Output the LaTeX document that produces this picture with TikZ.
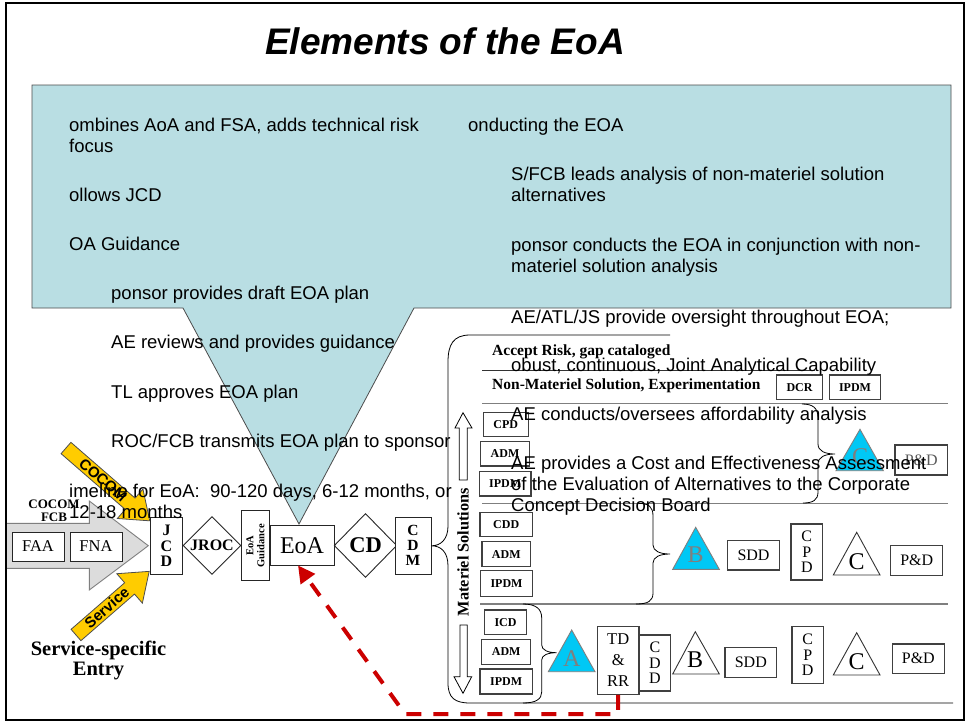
\documentclass[tikz,border=0pt]{standalone}
\usepackage{fontspec}
\setmainfont{Liberation Serif}
\setsansfont{Liberation Sans}
\usetikzlibrary{calc,arrows.meta,shapes.geometric}

\definecolor{calloutfill}{HTML}{B9DEE3}
\definecolor{gold}{HTML}{FFCC00}
\definecolor{cyantri}{HTML}{00C8F5}
\definecolor{arrowgray}{HTML}{DCDCDC}
\definecolor{dashred}{HTML}{CC0000}
\definecolor{rulegray}{HTML}{7F7F7F}

\tikzset{
  % multi-line balloon paragraphs are anchored at the baseline of their last line
  co/.style={font=\fontsize{18.5}{21}\selectfont\sffamily, anchor=base west, inner sep=0pt, align=left},
  flowbox/.style={draw=black!85, line width=0.9pt, fill=white, inner sep=0pt},
  lab/.style={draw=black!75, line width=1.2pt, fill=white, inner sep=0pt, font=\fontsize{12}{12}\selectfont\bfseries},
  rbox/.style={draw=black!75, line width=1.2pt, fill=white, inner sep=0pt, font=\fontsize{16}{15.5}\selectfont, align=center},
  tri/.style={draw=black!80, line width=0.9pt, fill=white},
  ctri/.style={draw=rulegray, line width=0.9pt, fill=cyantri},
  tletter/.style={inner sep=0pt, font=\fontsize{24}{24}\selectfont},
  sep/.style={draw=rulegray, line width=1.4pt},
  yarrow/.style={fill=gold, draw=black!70, line width=0.8pt},
  hollow/.style={fill=white, draw=black, line width=0.8pt},
  rowtxt/.style={anchor=base west, inner sep=0pt, font=\fontsize{15.5}{15.5}\selectfont\bfseries},
}

\begin{document}
\begin{tikzpicture}[x=1pt,y=-1pt]
\useasboundingbox (0,0) rectangle (969,723);
\fill[white] (0,0) rectangle (969,723);

% slide frame
\draw[line width=2.5pt] (6,3) rectangle (964,720);

% title
\node[inner sep=0pt, font=\fontsize{37}{37}\selectfont\sffamily\bfseries\itshape] (title) at (445,41) {Elements of the EoA};

% callout balloon pointing at the EoA box
\filldraw[fill=calloutfill, draw=black!70, line width=0.8pt]
  (32,85) -- (951,85) -- (951,308) -- (414,308) -- (299,524) -- (183,308) -- (32,308) -- cycle;

% ---------------- entry flow ----------------
\filldraw[fill=arrowgray, draw=rulegray, line width=0.9pt]
  (7,523.3) -- (89.3,523.3) -- (89.3,501) -- (148.3,545.7) -- (89.3,590) -- (89.3,568.3) -- (7,568.3);
\node[flowbox, minimum width=52, minimum height=29, font=\fontsize{16.5}{16.5}\selectfont] (faa) at (38,546.5) {FAA};
\node[flowbox, minimum width=52, minimum height=29, font=\fontsize{16.5}{16.5}\selectfont] (fna) at (96,546.5) {FNA};
\node[inner sep=0pt, align=center, font=\fontsize{13}{13}\selectfont\bfseries] (cocomfcb) at (54,510.5) {COCOM\\FCB};

% yellow entry arrows
\begin{scope}[shift={(66,448)}, rotate=-41]
  \filldraw[yarrow] (0,-7.5) -- (85,-7.5) -- (85,-19.5) -- (111,0) -- (85,19.5) -- (85,7.5) -- (0,7.5) -- cycle;
\end{scope}
\node[inner sep=0pt, rotate=-41, font=\fontsize{15}{15}\selectfont\sffamily\bfseries] (cocomtxt) at (103,480) {COCOM};
\begin{scope}[shift={(76,635)}, rotate=41]
  \filldraw[yarrow] (0,-7.5) -- (71,-7.5) -- (71,-19.5) -- (97,0) -- (71,19.5) -- (71,7.5) -- (0,7.5) -- cycle;
\end{scope}
\node[inner sep=0pt, rotate=41, font=\fontsize{15}{15}\selectfont\sffamily\bfseries] (servtxt) at (106.7,607.5) {Service};

\node[inner sep=0pt, align=center, font=\fontsize{20.5}{20}\selectfont\bfseries] (entry) at (98.5,660) {Service-specific\\Entry};

\node[flowbox, minimum width=31.6, minimum height=56.6, align=center, font=\fontsize{16}{15.5}\selectfont\bfseries] (jcd) at (166.5,546) {J\\C\\D};
\node[flowbox, diamond, minimum width=58, minimum height=58, font=\fontsize{16}{16}\selectfont\bfseries] (jroc) at (212,545.5) {JROC};
\node[flowbox, rotate=90, minimum width=70, minimum height=27.6, align=center, font=\fontsize{10.5}{11}\selectfont\bfseries] (guid) at (255.5,545.7) {EoA\\Guidance};
\node[flowbox, minimum width=64, minimum height=39.3, font=\fontsize{24}{24}\selectfont] (eoa) at (302,545.3) {EoA};
\node[flowbox, diamond, minimum width=62.6, minimum height=64, font=\fontsize{22.5}{22.5}\selectfont\bfseries] (cd) at (365.5,545.5) {CD};
\node[flowbox, minimum width=36, minimum height=56.3, align=center, font=\fontsize{15.5}{15}\selectfont\bfseries] (cdm) at (413,545.8) {C\\D\\M};

% ---------------- solution space ----------------
% outer brace from CDM, with its top and bottom rules
\draw[line width=0.8pt] (670,335) -- (470,335) .. controls (453,335) and (448,345) .. (448,362)
  -- (448,526) .. controls (448,539) and (441,545.8) .. (cdm.east)
  .. controls (441,545.8) and (448,552) .. (448,566) -- (448,683)
  .. controls (448,698) and (455,703) .. (470,703) -- (953,703);

% row rules
\draw[line width=1pt, black!80] (482,370) -- (815,370);
\draw[sep] (482,403.3) -- (948,403.3);
\draw[sep] (482,503.3) -- (948,503.3);
\draw[sep] (480,604) -- (948,604);

% up / down hollow arrows and side label
\filldraw[hollow] (459.3,480) -- (459.3,428) -- (455,428) -- (463,412.7) -- (472,428) -- (467.3,428) -- (467.3,480) -- cycle;
\filldraw[hollow] (460,625) -- (467.3,625) -- (467.3,676.7) -- (471.7,676.7) -- (463,693.3) -- (454,676.7) -- (460,676.7) -- cycle;
\node[inner sep=0pt, rotate=90, font=\fontsize{16.3}{16.3}\selectfont\bfseries] (matsol) at (463,552) {Materiel Solutions};

% top rows
\node[rowtxt] (accept) at (492,355) {Accept Risk, gap cataloged};
\node[rowtxt] (nonmat) at (492,389.5) {Non-Materiel Solution, Experimentation};
\node[lab, minimum width=45.6, minimum height=24.3] (dcr) at (799.5,387.2) {DCR};
\node[lab, minimum width=51.4, minimum height=24.3] (ipdm0) at (855,387.2) {IPDM};

% row 3
\node[lab, minimum width=45, minimum height=24.4] (cpd3) at (505.8,424.5) {CPD};
\node[lab, minimum width=48.6, minimum height=24.3] (adm3) at (505,453.9) {ADM};
\node[lab, minimum width=51.7, minimum height=24.3] (ipdm3) at (505.2,483.9) {IPDM};
\draw[line width=0.8pt] (802,404) .. controls (813,404) and (818,408) .. (818,418) -- (818,444)
  .. controls (818,451) and (825,454) .. (835,454)
  .. controls (825,454) and (818,457) .. (818,464) -- (818,492)
  .. controls (818,500) and (813,503) .. (803,503);
\filldraw[ctri] (836,470.7) -- (883.3,470.7) -- (860,429.3) -- cycle;
\node[tletter, text=rulegray] (c3) at (860,456.7) {C};
\node[rbox, minimum width=52.3, minimum height=30, text=black!65] (pd3) at (921.2,460) {P\&D};

% row 2
\node[lab, minimum width=52.3, minimum height=24] (cdd2) at (506.2,524.7) {CDD};
\node[lab, minimum width=48.7, minimum height=25] (adm2) at (506.3,554.2) {ADM};
\node[lab, minimum width=51.6, minimum height=26] (ipdm2) at (506.5,583.7) {IPDM};
\draw[line width=0.8pt] (638,503.3) .. controls (649,503.3) and (653,507) .. (653,516) -- (653,545)
  .. controls (653,551) and (660,554) .. (670,554)
  .. controls (660,554) and (653,557) .. (653,563) -- (653,593)
  .. controls (653,601) and (648,604) .. (636,604);
\filldraw[ctri] (672.7,569.3) -- (719.3,569.3) -- (695.7,527.3) -- cycle;
\node[tletter, text=rulegray] (b2) at (695.7,555) {B};
\node[rbox, minimum width=51.6, minimum height=29.3] (sdd2) at (753.5,555.3) {SDD};
\node[rbox, minimum width=31.7, minimum height=56] (cpd2) at (806.8,552) {C\\P\\D};
\filldraw[tri] (833.3,575) -- (880,575) -- (856.7,532.3) -- cycle;
\node[tletter] (c2) at (856.7,561.7) {C};
\node[rbox, minimum width=52, minimum height=30] (pd2) at (916.7,560.7) {P\&D};

% row 1
\node[lab, minimum width=42.4, minimum height=24.3] (icd1) at (505.5,622.2) {ICD};
\node[lab, minimum width=49, minimum height=25] (adm1) at (506.2,651.8) {ADM};
\node[lab, minimum width=52.3, minimum height=25] (ipdm1) at (506.2,681.5) {IPDM};
\draw[line width=0.8pt] (523,604) .. controls (536,604) and (541.7,609) .. (541.7,618) -- (541.7,645)
  .. controls (541.7,650) and (548,652.7) .. (556.7,652.7)
  .. controls (548,652.7) and (541.7,655) .. (541.7,660) -- (541.7,692)
  .. controls (541.7,699) and (536,703) .. (523,703);
\filldraw[ctri] (548.3,671.7) -- (595,671.7) -- (571.7,630) -- cycle;
\node[tletter, text=rulegray] (a1) at (571.7,658.3) {A};
\node[rbox, minimum width=41.7, minimum height=67.6, font=\fontsize{16.5}{21}\selectfont] (tdrr) at (618.2,660.5) {TD\\\&\\RR};
\node[rbox, minimum width=31.4, minimum height=56] (cdd1) at (655,663) {C\\D\\D};
\filldraw[tri] (672.7,674) -- (719.3,674) -- (695.3,631.7) -- cycle;
\node[tletter] (b1) at (695,660) {B};
\node[rbox, minimum width=51.7, minimum height=29.6] (sdd1) at (750.8,662.5) {SDD};
\node[rbox, minimum width=31.3, minimum height=56.6] (cpd1) at (807.7,655) {C\\P\\D};
\filldraw[tri] (833.3,675) -- (880,675) -- (856.7,632.7) -- cycle;
\node[tletter] (c1) at (856.7,661.7) {C};
\node[rbox, minimum width=52, minimum height=29.3] (pd1) at (918.3,658.7) {P\&D};

% feedback from TD & RR back to the EoA
\coordinate (fbcorner) at (405,714);
\draw[dashred, line width=4pt, dash pattern=on 15pt off 12pt, -{Triangle[length=17pt,width=17pt]}]
  (tdrr.south) -- (tdrr.south |- fbcorner) -- (fbcorner) -- ($(eoa.south)+(-4,0)$);

% ---------------- balloon text ----------------
\node[co] (l1) at (69,152) {ombines AoA and FSA, adds technical risk\\focus};
\node[co] (l2) at (69,201) {ollows JCD};
\node[co] (l3) at (69,250) {OA Guidance};
\node[co] (l4) at (111,299) {ponsor provides draft EOA plan};
\node[co] (l5) at (111,348) {AE reviews and provides guidance};
\node[co] (l6) at (111,398) {TL approves EOA plan};
\node[co] (l7) at (111,447.5) {ROC/FCB transmits EOA plan to sponsor};
\node[co] (l8) at (69,518) {imeline for EoA:\ \ 90-120 days, 6-12 months, or\\12-18 months};

\node[co] (r1) at (468,131) {onducting the EOA};
\node[co] (r2) at (511,201) {S/FCB leads analysis of non-materiel solution\\alternatives};
\node[co] (r3) at (511,272.5) {ponsor conducts the EOA in conjunction with non-\\materiel solution analysis};
\node[co] (r4) at (511,323) {AE/ATL/JS provide oversight throughout EOA;};
\node[co] (r5) at (511,371) {obust, continuous, Joint Analytical Capability};
\node[co] (r6) at (511,420) {AE conducts/oversees affordability analysis};
\node[co] (r7) at (511,511) {AE provides a Cost and Effectiveness Assessment\\of the Evaluation of Alternatives to the Corporate\\Concept Decision Board};
\end{tikzpicture}
\end{document}
